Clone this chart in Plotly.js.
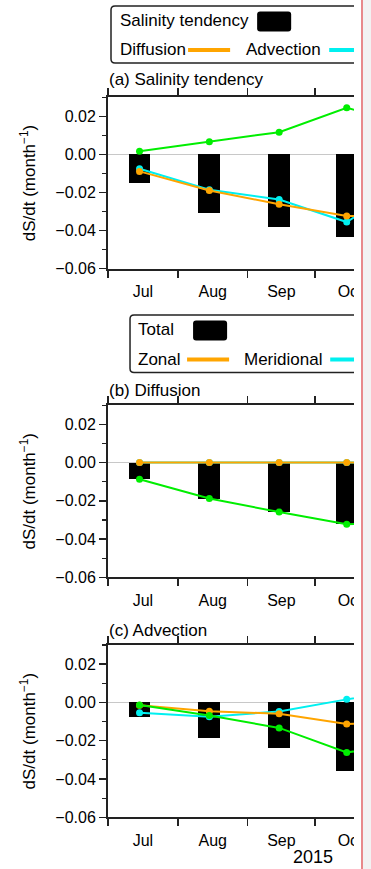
<!DOCTYPE html>
<html>
<head>
<meta charset="utf-8">
<script src="https://cdn.plot.ly/plotly-3.0.1.min.js"></script>
<style>
  html, body { margin:0; padding:0; background:#fff; }
  body { width:371px; height:869px; overflow:hidden; position:relative; }
  #clip { position:absolute; left:0; top:0; width:354px; height:869px; overflow:hidden; }
  #chart { width:400px; height:869px; }
  #redline { position:absolute; left:361px; top:0; width:2px; height:869px; background:#e8898b; }
  #grayside { position:absolute; left:363px; top:0; width:8px; height:869px; background:#f2f2f2; }
</style>
</head>
<body>
<div id="clip"><div id="chart"></div></div>
<div id="redline"></div>
<div id="grayside"></div>
<script>
// ---- data ----
const months = ['2015-07-15', '2015-08-15', '2015-09-15', '2015-10-15', '2015-11-15'];
const monthTickLabels = ['Jul', 'Aug', 'Sep', 'Oct', 'Nov'];
const yearLabel = '2015';

// (a) Salinity tendency
const aSalinityTendency = [-0.0150, -0.0305, -0.0380, -0.0435, -0.0370];
const aDiffusion        = [-0.0089, -0.0189, -0.0262, -0.0323, -0.0320];
const aAdvection        = [-0.0075, -0.0185, -0.0237, -0.0355, -0.0120];
const aResidual         = [ 0.0017,  0.0066,  0.0117,  0.0245,  0.0145];

// (b) Diffusion
const bTotal      = [-0.0087, -0.0188, -0.0259, -0.0322, -0.0320];
const bZonal      = [ 0.0000,  0.0000,  0.0000,  0.0000,  0.0000];
const bMeridional = [ 0.0000,  0.0000,  0.0000,  0.0000,  0.0000];
const bVertical   = [-0.0087, -0.0188, -0.0259, -0.0322, -0.0320];

// (c) Advection
const cTotal      = [-0.0077, -0.0185, -0.0240, -0.0357, -0.0240];
const cZonal      = [-0.0015, -0.0046, -0.0059, -0.0112, -0.0110];
const cMeridional = [-0.0054, -0.0075, -0.0047,  0.0016,  0.0070];
const cVertical   = [-0.0014, -0.0068, -0.0133, -0.0261, -0.0210];

// ---- styling ----
const FONT = 'Liberation Sans, Arial, Helvetica, sans-serif';
const ORANGE = '#ffa500', CYAN = '#00f0f0', GREEN = '#00ee00';
const W = 400, H = 869, L = 108;
const DAYPX = 2.25;                       // pixels per day on the time axis
const PW = 123 * DAYPX;                   // Jul 1 -> Nov 1
const R = W - L - PW;
const BARW = 9.7 * 86400000;

function bar(y, xa, ya) {
  return {type:'bar', x: months, y: y, xaxis: xa, yaxis: ya, width: BARW,
          marker:{color:'#000', line:{width:0}}, showlegend:false, hoverinfo:'x+y'};
}
function line(y, color, xa, ya, name) {
  return {type:'scatter', mode:'lines+markers', x: months, y: y, xaxis: xa, yaxis: ya, name: name,
          line:{color: color, width: 2}, marker:{color: color, size: 7}, showlegend:false};
}

const traces = [
  bar(aSalinityTendency, 'x', 'y'),
  line(aAdvection, CYAN, 'x', 'y', 'Advection'),
  line(aDiffusion, ORANGE, 'x', 'y', 'Diffusion'),
  line(aResidual, GREEN, 'x', 'y', 'Residual'),
  bar(bTotal, 'x2', 'y2'),
  line(bMeridional, CYAN, 'x2', 'y2', 'Meridional'),
  line(bZonal, ORANGE, 'x2', 'y2', 'Zonal'),
  line(bVertical, GREEN, 'x2', 'y2', 'Vertical'),
  bar(cTotal, 'x3', 'y3'),
  line(cMeridional, CYAN, 'x3', 'y3', 'Meridional'),
  line(cZonal, ORANGE, 'x3', 'y3', 'Zonal'),
  line(cVertical, GREEN, 'x3', 'y3', 'Vertical')
];

function xaxis(anchor) {
  return {
    anchor: anchor, domain:[0,1], type:'date',
    range:['2015-07-01', '2015-11-01'],
    tick0:'2015-07-01', dtick:'M1', tickformat:'%b', ticklabelmode:'period',
    ticks:'outside', ticklen:7, tickwidth:1.5, tickcolor:'#222',
    showline:true, linewidth:2, linecolor:'#222', mirror:'ticks',
    showgrid:false, zeroline:false,
    tickfont:{family:FONT, size:16, color:'#000'}
  };
}
function yaxis(anchor, domain) {
  return {
    anchor: anchor, domain: domain, range:[-0.06, 0.03],
    tick0:-0.06, dtick:0.02, tickformat:'.2f',
    ticks:'outside', ticklen:7, tickwidth:1.5, tickcolor:'#222',
    minor:{dtick:0.01, tick0:-0.06, ticks:'outside', ticklen:4, tickwidth:1.2, tickcolor:'#222', showgrid:false},
    showline:true, linewidth:2, linecolor:'#222', mirror:'ticks',
    showgrid:false, zeroline:true, zerolinecolor:'#c8c8c8', zerolinewidth:1.5,
    tickfont:{family:FONT, size:16, color:'#000'},
    title:{text:'dS/dt (month<sup>\u22121</sup>)', font:{family:FONT, size:17, color:'#000'}, standoff: 15}
  };
}

// pixel -> paper helpers for legend drawing
const PX = p => (p - L) / PW;
const PY = p => 1 - p / H;
function rrect(x0, y0, x1, y1, r) {
  const f = (x, y) => PX(x) + ',' + PY(y);
  return 'M' + f(x0 + r, y0) + ' L' + f(x1 - r, y0) + ' Q' + f(x1, y0) + ' ' + f(x1, y0 + r) +
         ' L' + f(x1, y1 - r) + ' Q' + f(x1, y1) + ' ' + f(x1 - r, y1) +
         ' L' + f(x0 + r, y1) + ' Q' + f(x0, y1) + ' ' + f(x0, y1 - r) +
         ' L' + f(x0, y0 + r) + ' Q' + f(x0, y0) + ' ' + f(x0 + r, y0) + ' Z';
}
function lshape(x0, x1, y, color) {
  return {type:'line', xref:'paper', yref:'paper', x0:PX(x0), x1:PX(x1), y0:PY(y), y1:PY(y),
          line:{color:color, width:4}};
}
function txt(text, x, y, size, anchor) {
  return {text:text, xref:'paper', yref:'paper', x:PX(x), y:PY(y), xanchor:anchor || 'left', yanchor:'middle',
          showarrow:false, font:{family:FONT, size:size || 17, color:'#000'}};
}

const shapes = [
  // legend (a)
  {type:'path', xref:'paper', yref:'paper', path: rrect(111, 6, 395, 63, 4), line:{color:'#222', width:1.5}, fillcolor:'rgba(0,0,0,0)'},
  {type:'path', xref:'paper', yref:'paper', path: rrect(257, 11.5, 291, 31.5, 3), line:{width:0}, fillcolor:'#000'},
  lshape(188, 230, 50, ORANGE),
  lshape(329, 371, 50, CYAN),
  // legend (b)
  {type:'path', xref:'paper', yref:'paper', path: rrect(130, 315, 395, 372.5, 4), line:{color:'#222', width:1.5}, fillcolor:'rgba(0,0,0,0)'},
  {type:'path', xref:'paper', yref:'paper', path: rrect(193, 320.5, 227, 340.5, 3), line:{width:0}, fillcolor:'#000'},
  lshape(187, 229, 359.5, ORANGE),
  lshape(330, 372, 359.5, CYAN)
];

const annotations = [
  txt('Salinity tendency', 118, 21),
  txt('Diffusion', 118, 50),
  txt('Advection', 244, 50),
  txt('Total', 136, 329),
  txt('Zonal', 136, 359.5),
  txt('Meridional', 242, 359.5),
  txt('(a) Salinity tendency', 107, 80),
  txt('(b) Diffusion', 107, 390.5),
  txt('(c) Advection', 107, 630.5),
  txt(yearLabel, 313, 857, 18, 'center')
];

const layout = {
  width: W, height: H,
  margin:{l:L, r:R, t:0, b:0},
  paper_bgcolor:'#fff', plot_bgcolor:'#fff',
  font:{family:FONT, size:16, color:'#000'},
  showlegend:false, bargap:0,
  xaxis: xaxis('y'),
  xaxis2: xaxis('y2'),
  xaxis3: xaxis('y3'),
  yaxis: yaxis('x', [1 - 268.7/H, 1 - 97.3/H]),
  yaxis2: yaxis('x2', [1 - 577.3/H, 1 - 405.2/H]),
  yaxis3: yaxis('x3', [1 - 817.3/H, 1 - 645/H]),
  shapes: shapes,
  annotations: annotations
};

Plotly.newPlot('chart', traces, layout, {displayModeBar:false, staticPlot:true});
</script>
</body>
</html>
